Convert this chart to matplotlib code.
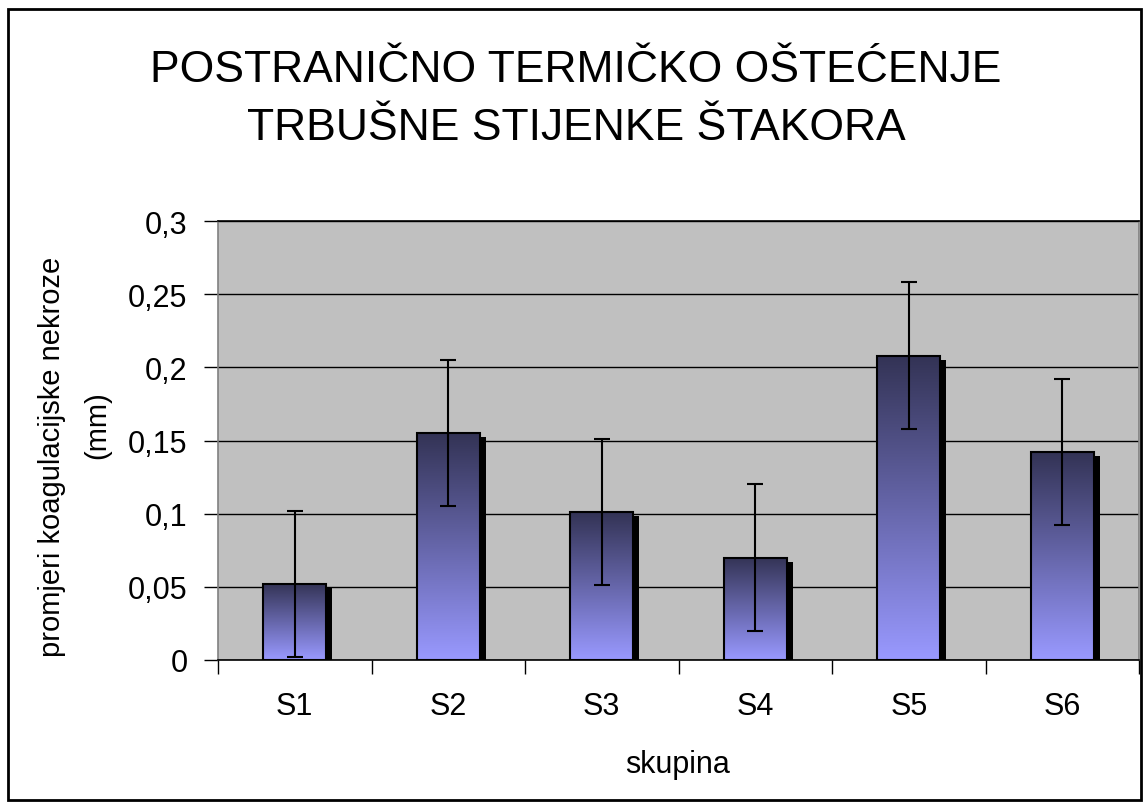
import matplotlib
matplotlib.use("Agg")
import matplotlib.pyplot as plt
import numpy as np
from matplotlib.colors import LinearSegmentedColormap
from matplotlib.patches import Rectangle

plt.rcParams['font.family'] = ['Liberation Sans', 'DejaVu Sans']

skupine = ["S1", "S2", "S3", "S4", "S5", "S6"]
vrijednosti = [0.052, 0.155, 0.101, 0.070, 0.208, 0.142]
greske = [0.05, 0.05, 0.05, 0.05, 0.05, 0.05]
yticks = [0, 0.05, 0.1, 0.15, 0.2, 0.25, 0.3]
ytick_labels = ["0", "0,05", "0,1", "0,15", "0,2", "0,25", "0,3"]

fig = plt.figure(figsize=(11.43, 8.03), dpi=100)
ax = fig.add_axes([218/1143, 1-661/803, (1139-218)/1143, (661-222)/803])
ax.set_facecolor('#c0c0c0')

x = np.arange(len(skupine))
w = 0.41
cmap = LinearSegmentedColormap.from_list("grad", ["#9999ff", "#333355"])
grad = np.linspace(0, 1, 256).reshape(-1, 1)

# sjena
ax.bar(x + 0.04, np.array(vrijednosti) - 0.0028, w, bottom=0, color='black', zorder=2)

for i, v in enumerate(vrijednosti):
    ax.imshow(grad, extent=[x[i]-w/2, x[i]+w/2, 0, v], origin='lower',
              cmap=cmap, aspect='auto', zorder=3)
    ax.add_patch(Rectangle((x[i]-w/2, 0), w, v, fill=False, edgecolor='black',
                           linewidth=1.5, zorder=4))

ax.errorbar(x, vrijednosti, yerr=greske, fmt='none', ecolor='black',
            elinewidth=1.5, capsize=6, capthick=1.5, zorder=5)

ax.set_xlim(-0.5, 5.5)
ax.set_ylim(0, 0.3)
ax.set_yticks(yticks)
ax.set_yticklabels(ytick_labels, fontsize=22)
ax.yaxis.grid(True, color='black', linewidth=1)
ax.set_axisbelow(True)

ax.set_xticks(x)
ax.set_xticklabels(skupine, fontsize=22)
ax.set_xticks(np.arange(-0.5, 6, 1), minor=True)
ax.tick_params(axis='x', which='major', length=0, pad=22)
ax.tick_params(axis='x', which='minor', length=10, width=1, direction='out')
ax.tick_params(axis='y', length=10, width=1, direction='out', pad=12)

ax.spines['left'].set_color('#808080')
ax.spines['right'].set_color('#808080')
ax.spines['top'].set_color('black')
ax.spines['bottom'].set_color('black')
for s in ax.spines.values():
    s.set_linewidth(1.2)

fig.text(576/1143, 1-70/803, "POSTRANIČNO TERMIČKO OŠTEĆENJE", ha='center', va='center', fontsize=32)
fig.text(576/1143, 1-128/803, "TRBUŠNE STIJENKE ŠTAKORA", ha='center', va='center', fontsize=32)
fig.text(678/1143, 1-765/803, "skupina", ha='center', va='center', fontsize=22)
fig.text(52/1143, 1-457/803, "promjeri koagulacijske nekroze", ha='center', va='center',
         rotation=90, fontsize=21)
fig.text(97/1143, 1-425/803, "(mm)", ha='center', va='center', rotation=90, fontsize=21)

fig.patches.append(Rectangle((8/1143, 1-801/803), (1141-8)/1143, (801-10)/803,
                             transform=fig.transFigure, fill=False, edgecolor='black', linewidth=2))

fig.savefig("out.png", dpi=100)
